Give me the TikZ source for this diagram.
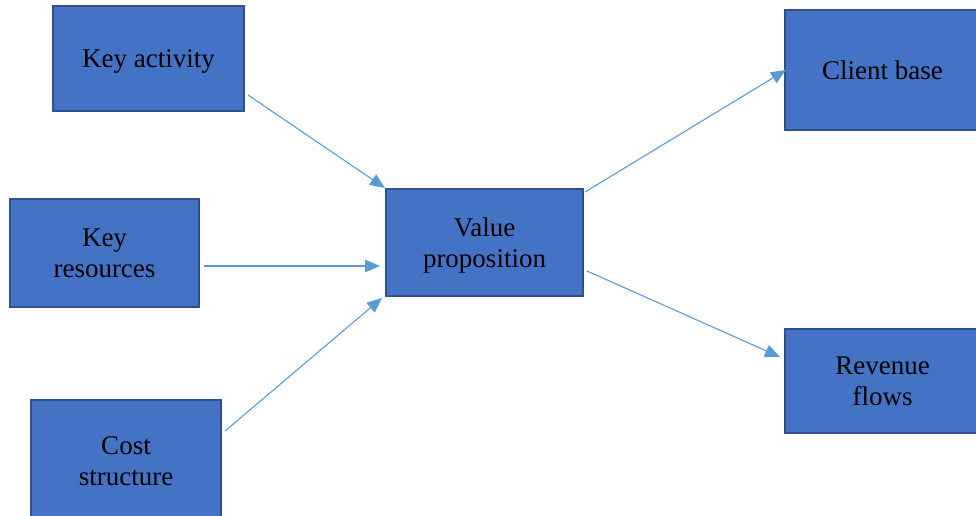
\documentclass[tikz,border=0pt]{standalone}
\usepackage{fontspec}
\setmainfont{Liberation Serif}
\usepackage{xcolor}
\usetikzlibrary{arrows.meta,calc,positioning}

\definecolor{boxfill}{HTML}{4472C4}
\definecolor{boxline}{HTML}{2F528F}
\definecolor{arrowblue}{HTML}{5B9BD5}

\begin{document}
\begin{tikzpicture}[x=1pt, y=1pt,
  block/.style={draw=boxline, line width=2pt, fill=boxfill, align=center,
    inner sep=0pt, text depth=0pt, font=\fontsize{27}{30.5}\selectfont},
  flow/.style={draw=arrowblue, line width=1.1pt, -{Triangle[length=15pt,width=12.5pt]}}]
  \useasboundingbox (0, 0) rectangle (976, 515);

  % Boxes
  \node[block, minimum width=191, minimum height=105] (act) at (148.5, 456.5) {Key activity};
  \node[block, minimum width=189, minimum height=108] (res) at (104.5, 262) {Key\\resources};
  \node[block, minimum width=190, minimum height=122] (cost) at (126, 54) {Cost\\structure};
  \node[block, minimum width=197, minimum height=107] (value) at (484.5, 272.5) {Value\\proposition};
  \node[block, minimum width=195, minimum height=120] (client) at (882.5, 445) {Client base};
  \node[block, minimum width=195, minimum height=104] (revenue) at (882.5, 134) {Revenue\\flows};

  % Arrows into the value proposition
  \draw[flow] ([shift={(3,17)}]act.south east) -- (value.north west);
  \draw[flow] ([shift={(4,-13)}]res.east) -- ([shift={(-5,-23.5)}]value.west);
  \draw[flow] ([shift={(3,-32)}]cost.north east) -- ([shift={(-3,-1)}]value.south west);

  % Arrows out of it
  \draw[flow] ([shift={(1,-4)}]value.north east) -- ([shift={(2,0)}]client.west);
  \draw[flow] ([shift={(3,-28.5)}]value.east) -- ([shift={(-4,24)}]revenue.west);
\end{tikzpicture}
\end{document}
